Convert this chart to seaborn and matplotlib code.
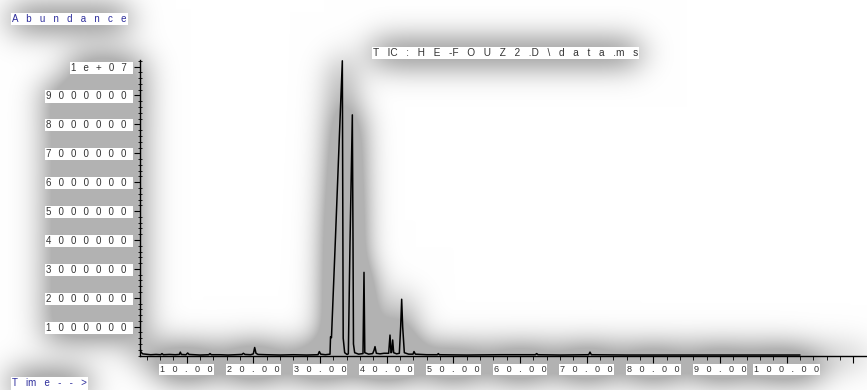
import numpy as np
import pandas as pd
import matplotlib
matplotlib.use("Agg")
import matplotlib.pyplot as plt
from matplotlib.ticker import FixedLocator, MultipleLocator
import seaborn as sns

# Total ion chromatogram trace: retention time (min) and abundance (counts)
time_min = [
    3.0, 3.15, 3.4, 3.8, 4.6, 5.4, 6.1, 6.3, 6.5, 7.4, 8.3, 8.9, 9.05, 9.2,
    9.9, 10.15, 10.35, 11.2, 12.0, 13.3, 13.5, 13.7, 15.0, 16.2, 17.3, 18.3,
    18.5, 18.75, 19.6, 20.0, 20.2, 20.4, 20.7, 22.0, 24.0, 26.0, 28.0, 29.7,
    29.9, 30.1, 30.8, 31.5, 31.58, 31.72, 32.32, 32.9, 33.35, 33.42, 33.48,
    33.7, 34.05, 34.25, 34.5, 34.85, 34.95, 35.02, 35.2, 35.8, 36.45, 36.6,
    36.72, 37.3, 37.9, 38.1, 38.25, 38.45, 39.0, 39.6, 40.3, 40.5, 40.65,
    40.75, 40.9, 41.05, 41.5, 41.9, 42.1, 42.25, 42.4, 42.65, 43.3, 43.95,
    44.1, 44.3, 46.0, 47.6, 47.75, 47.9, 52.0, 57.0, 62.3, 62.5, 62.7, 66.0,
    70.3, 70.5, 70.7, 76.0, 84.0, 92.0, 102.0,
]
abundance = [
    260000, 120000, 60000, 50000, 30000, 40000, 30000, 70000, 30000, 40000,
    30000, 40000, 120000, 40000, 30000, 90000, 40000, 30000, 20000, 30000,
    70000, 30000, 30000, 20000, 30000, 40000, 80000, 40000, 30000, 60000,
    280000, 80000, 40000, 30000, 20000, 30000, 20000, 30000, 140000, 50000,
    30000, 50000, 650000, 620000, 4080000, 7550000, 10200000, 5000000,
    600000, 100000, 40000, 60000, 3900000, 8330000, 4000000, 400000, 100000,
    50000, 70000, 2880000, 100000, 50000, 70000, 180000, 310000, 80000,
    60000, 80000, 80000, 710000, 100000, 120000, 540000, 100000, 60000,
    80000, 1000000, 1950000, 1000000, 100000, 50000, 50000, 140000, 50000,
    30000, 30000, 70000, 30000, 20000, 30000, 30000, 70000, 30000, 20000,
    30000, 120000, 30000, 20000, 20000, 20000, 20000,
]

x_ticks = [10, 20, 30, 40, 50, 60, 70, 80, 90, 100, 110]
x_tick_labels = ["10.00", "20.00", "30.00", "40.00", "50.00", "60.00",
                 "70.00", "80.00", "90.00", "100.00", ""]
y_ticks = [1e6, 2e6, 3e6, 4e6, 5e6, 6e6, 7e6, 8e6, 9e6, 1e7]
y_tick_labels = ["1000000", "2000000", "3000000", "4000000", "5000000",
                 "6000000", "7000000", "8000000", "9000000", "1e+07"]

title_text = "TIC: HE-FOUZ2.D\\data.ms"
y_axis_text = "Abundance"
x_axis_text = "Time-->"

WIDE_GAP = "   "
NARROW_GAP = "  \u2006"


def track(s, gap=WIDE_GAP, narrow=""):
    """Spread characters apart like a plotter font; spaces collapse into one gap."""
    parts = [ch for ch in s if ch != " "]
    out = ""
    for i, ch in enumerate(parts):
        out += ch
        if i < len(parts) - 1 and ch not in narrow:
            out += gap
    return out


def gaussian_blur(img, sigma):
    r = int(3 * sigma)
    k = np.exp(-0.5 * (np.arange(-r, r + 1) / sigma) ** 2)
    k /= k.sum()
    padded = np.pad(img, r, mode="constant")
    tmp = np.apply_along_axis(lambda v: np.convolve(v, k, mode="valid"), 1, padded)
    return np.apply_along_axis(lambda v: np.convolve(v, k, mode="valid"), 0, tmp)


sns.set_style("white")
plt.rcParams["font.family"] = ["Liberation Sans", "DejaVu Sans"]

W, H = 867, 390
fig = plt.figure(figsize=(W / 100, H / 100), dpi=100)
fig.patch.set_facecolor("white")

ax = fig.add_axes([140 / W, (H - 355.6) / H, (W - 140) / W, (355.6 - 60) / H])
ax.set_facecolor("none")

df = pd.DataFrame({"time": time_min, "abundance": abundance})
sns.lineplot(data=df, x="time", y="abundance", ax=ax, color="black",
             linewidth=1.1, estimator=None, sort=False)
trace = ax.lines[0]

ax.set_xlim(3.0, 112.05)
ax.set_ylim(0, 1.0228e7)
ax.set_xlabel("")
ax.set_ylabel("")

for side in ("top", "right"):
    ax.spines[side].set_visible(False)
for side in ("left", "bottom"):
    ax.spines[side].set_color("black")
    ax.spines[side].set_linewidth(1.0)

ax.xaxis.set_major_locator(FixedLocator(x_ticks))
ax.xaxis.set_minor_locator(MultipleLocator(2))
ax.yaxis.set_major_locator(FixedLocator(y_ticks))
ax.yaxis.set_minor_locator(MultipleLocator(2e5))
ax.set_xticklabels([track(s) for s in x_tick_labels])
ax.set_yticklabels([track(s, gap=NARROW_GAP) + "  " for s in y_tick_labels])

ax.tick_params(bottom=True, left=True, which="both")
ax.tick_params(axis="x", which="major", direction="out", length=5, width=0.8,
               pad=2, labelsize=6.5, labelcolor="#333333", color="black")
ax.tick_params(axis="x", which="minor", direction="out", length=3, width=0.6,
               color="black")
ax.tick_params(axis="y", which="major", direction="out", length=4, width=0.8,
               pad=1.8, labelsize=7, labelcolor="#333333", color="black")
ax.tick_params(axis="y", which="minor", direction="inout", length=3, width=0.6,
               color="black")

label_color = "#2e2e9c"
t_title = fig.text(373 / W, 1 - 53 / H, track(title_text, narrow="I.-"),
                   ha="left", va="center", fontsize=7.3, color="#333333")
t_y = fig.text(12 / W, 1 - 19 / H, track(y_axis_text), ha="left",
               va="center", fontsize=7, color=label_color)
t_x = fig.text(12 / W, 1 - 383.5 / H, track(x_axis_text, narrow="i"),
               ha="left", va="center", fontsize=7, color=label_color)

fig.canvas.draw()
boxed = list(ax.get_xticklabels()) + list(ax.get_yticklabels()) + [t_title, t_y, t_x]
boxed = [t for t in boxed if t.get_text()]
for t in boxed:
    t.set_bbox(dict(facecolor="white", edgecolor="none", pad=0.8))

# Soft grey drop shadow behind every drawn element: ink from the lines
# (drawn thicker) plus the filled label boxes, then blurred.
trace.set_linewidth(5.0)
for side in ("left", "bottom"):
    ax.spines[side].set_linewidth(3.0)
fig.canvas.draw()
rgb = np.asarray(fig.canvas.buffer_rgba())[..., :3].astype(float) / 255.0
ink = 1.0 - rgb.mean(axis=2)
renderer = fig.canvas.get_renderer()
for t in boxed:
    bb = t.get_bbox_patch().get_window_extent(renderer)
    x0, x1 = int(round(bb.x0)), int(round(bb.x1))
    r0, r1 = int(round(H - bb.y1)), int(round(H - bb.y0))
    ink[max(r0, 0):max(r1, 0), max(x0, 0):max(x1, 0)] = 1.0
trace.set_linewidth(1.1)
for side in ("left", "bottom"):
    ax.spines[side].set_linewidth(1.0)

shade = np.clip(1.0 - 1.1 * gaussian_blur(ink, 16.0), 0.70, 1.0)
bg = fig.add_axes([0, 0, 1, 1], zorder=-5)
bg.imshow(np.dstack([shade] * 3), aspect="auto", interpolation="bilinear")
bg.set_axis_off()

fig.savefig("out.png", dpi=100, facecolor="white")
